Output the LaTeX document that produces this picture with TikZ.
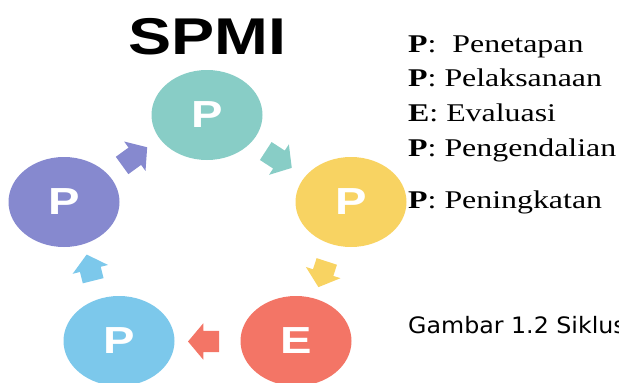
\documentclass[tikz,border=0pt]{standalone}
\usepackage{fontspec}
\setmainfont{Liberation Serif}
\newfontfamily\headfont{Liberation Sans}
\newfontfamily\capfont{DejaVu Sans}
\usetikzlibrary{shapes.geometric,shapes.arrows}
\definecolor{cteal}{HTML}{88CDC6}
\definecolor{cpurple}{HTML}{8689CF}
\definecolor{cyellow}{HTML}{F8D362}
\definecolor{cblue}{HTML}{7CC8EB}
\definecolor{cred}{HTML}{F37566}
\newcommand{\wide}[1]{\scalebox{1.25}[1]{#1}}
\begin{document}
\begin{tikzpicture}[x=1pt,y=-1pt,
  stage/.style={ellipse, fill=#1, draw=none, minimum width=111pt, minimum height=90pt,
    inner sep=0pt, text=white, font=\headfont\bfseries\fontsize{37.7}{40}\selectfont},
  flow/.style={single arrow, fill=#1, draw=none, inner xsep=0pt, inner ysep=10.5pt,
    single arrow head extend=7.5pt, single arrow tip angle=100, minimum height=31pt},
  legend/.style={anchor=base west, inner sep=0pt, font=\fontsize{25.5}{28}\selectfont}]
\useasboundingbox (0,0) rectangle (619,383);
\clip (0,0) rectangle (619,383);

% title
\node[inner sep=0pt, font=\headfont\bfseries\fontsize{51.7}{55}\selectfont] (title)
  at (207,36.5) {\wide{SPMI}};

% the five stages of the cycle
\node[stage=cteal]   (tetap)   at (207,115) {\wide{P}};
\node[stage=cyellow] (laksana) at (351,202) {\wide{P}};
\node[stage=cred]    (eval)    at (296,341) {\wide{E}};
\node[stage=cblue]   (kendali) at (119,341) {\wide{P}};
\node[stage=cpurple] (tingkat) at (64,202)  {\wide{P}};

% block arrows between the stages
\node[flow=cteal, rotate=-33]                        (a1) at (275,157) {};
\node[flow=cyellow, rotate=-108, minimum height=27pt] (a2) at (324,270) {};
\node[flow=cred, rotate=180, minimum height=31pt]     (a3) at (208,341.5) {};
\node[flow=cblue, rotate=104, minimum height=27pt]    (a4) at (91,272) {};
\node[flow=cpurple, rotate=36]                        (a5) at (131,159) {};

% legend
\node[legend] (l1) at (408,52)  {\wide{\textbf{P}:\ \ Penetapan}};
\node[legend] (l2) at (408,86.5) {\wide{\textbf{P}: Pelaksanaan}};
\node[legend] (l3) at (408,121) {\wide{\textbf{E}: Evaluasi}};
\node[legend] (l4) at (408,156) {\wide{\textbf{P}: Pengendalian}};
\node[legend] (l5) at (408,208) {\wide{\textbf{P}: Peningkatan}};

% caption
\node[anchor=base west, inner sep=0pt, font=\capfont\fontsize{22.6}{25}\selectfont] (cap)
  at (408,333) {\scalebox{1.05}[1]{Gambar 1.2 Siklus}};
\end{tikzpicture}
\end{document}
